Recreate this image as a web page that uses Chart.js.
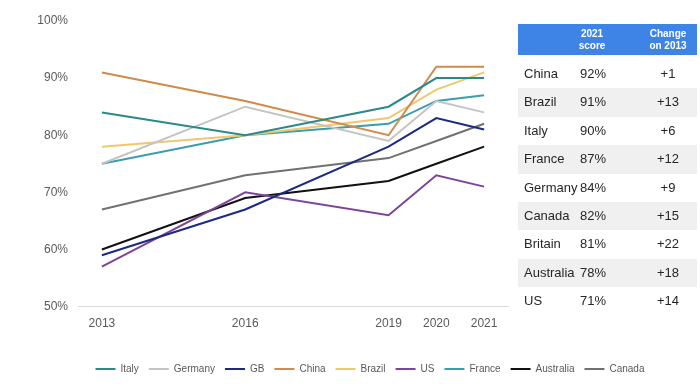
<!DOCTYPE html>
<html>
<head>
<meta charset="utf-8">
<script src="https://cdn.jsdelivr.net/npm/chart.js@4.4.0/dist/chart.umd.min.js"></script>
<style>
  html, body { margin: 0; padding: 0; background: #ffffff; overflow: hidden; }
  #wrap { position: relative; width: 700px; height: 388px; }
  #c { position: absolute; left: 0; top: 0; }
  #tbl { position: absolute; left: 518px; top: 24px; width: 179px; height: 292px;
         font-family: "Liberation Sans", Arial, sans-serif; }
  .hdr { position: absolute; left: 0; top: 0; width: 179px; height: 31px; background: #3e84e6; }
  .hc { position: absolute; top: 4px; width: 60px; margin-left: -30px; color: #fff; font-size: 10px;
        font-weight: bold; line-height: 12px; text-align: center; }
  .row { position: absolute; left: 0; width: 179px; height: 28.4px; }
  .row.g { background: #f0f0f0; }
  .cell { position: absolute; top: 0; line-height: 28.4px; font-size: 13px; color: #262626; white-space: nowrap; }
  .cn { left: 6px; }
  .cs, .cd { width: 50px; margin-left: -25px; text-align: center; }
</style>
</head>
<body>
<div id="wrap">
  <canvas id="c" width="700" height="388"></canvas>
  <div id="tbl"></div>
</div>
<script>
// ---- data ----
const years = [2013, 2016, 2019, 2020, 2021];
const yTicks = [50, 60, 70, 80, 90, 100];
const seriesNames = ["Italy", "Germany", "GB", "China", "Brazil", "US", "France", "Australia", "Canada"];
const italy     = [84, 80, 85, 90, 90];
const germany   = [75, 85, 79, 86, 84];
const gb        = [59, 67, 78, 83, 81];
const china     = [91, 86, 80, 92, 92];
const brazil    = [78, 80, 83, 88, 91];
const us        = [57, 70, 66, 73, 71];
const france    = [75, 80, 82, 86, 87];
const australia = [60, 69, 72, 75, 78];
const canada    = [67, 73, 76, 79, 82];
const seriesValues = [italy, germany, gb, china, brazil, us, france, australia, canada];
const seriesColors = ["#2a8a8a", "#c4c4c4", "#1c2a84", "#cf8a4c", "#efc76f", "#7d4498", "#3a9db0", "#111111", "#717171"];

const tableHeaders   = [["2021", "score"], ["Change", "on 2013"]];
const tableCountries = ["China", "Brazil", "Italy", "France", "Germany", "Canada", "Britain", "Australia", "US"];
const tableScores    = ["92%", "91%", "90%", "87%", "84%", "82%", "81%", "78%", "71%"];
const tableChanges   = ["+1", "+13", "+6", "+12", "+9", "+15", "+22", "+18", "+14"];

// ---- table (HTML text) ----
(function () {
  const t = document.getElementById('tbl');
  const scoreX = 75, changeX = 150;   // column centres relative to table left
  let h = '<div class="hdr">' +
    '<div class="hc" style="left:' + (scoreX - 1) + 'px">' + tableHeaders[0].join('<br>') + '</div>' +
    '<div class="hc" style="left:' + changeX + 'px">' + tableHeaders[1].join('<br>') + '</div></div>';
  tableCountries.forEach((c, i) => {
    const top = 36 + i * 28.4;
    h += '<div class="row' + (i % 2 === 1 ? ' g' : '') + '" style="top:' + top + 'px">' +
      '<span class="cell cn">' + c + '</span>' +
      '<span class="cell cs" style="left:' + scoreX + 'px">' + tableScores[i] + '</span>' +
      '<span class="cell cd" style="left:' + changeX + 'px">' + tableChanges[i] + '</span></div>';
  });
  t.innerHTML = h;
})();

// ---- chart ----
const datasets = seriesNames.map((name, i) => ({
  label: name,
  data: years.map((yr, j) => ({ x: yr, y: seriesValues[i][j] })),
  borderColor: seriesColors[i],
  backgroundColor: seriesColors[i],
  borderWidth: 2,
  pointRadius: 0,
  tension: 0,
  fill: false
}));

const FONT = "'Liberation Sans', Arial, sans-serif";

const legendShift = {
  id: 'legendShift',
  afterLayout(chart) {
    const lg = chart.legend;
    if (lg) { lg.left += 20; lg.right += 20; }
  }
};

new Chart(document.getElementById('c'), {
  type: 'line',
  data: { datasets },
  plugins: [legendShift],
  options: {
    responsive: false,
    animation: false,
    events: [],
    layout: { padding: { left: 0, top: 21, right: 0, bottom: 4 } },
    plugins: {
      tooltip: { enabled: false },
      legend: {
        position: 'bottom',
        labels: {
          boxWidth: 20,
          boxHeight: 2,
          padding: 10,
          color: '#595959',
          font: { family: FONT, size: 10 },
          generateLabels(chart) {
            return chart.data.datasets.map((ds, i) => ({
              text: ds.label,
              fillStyle: ds.borderColor,
              strokeStyle: ds.borderColor,
              lineWidth: 0,
              hidden: false,
              datasetIndex: i,
              fontColor: '#595959'
            }));
          }
        }
      }
    },
    scales: {
      x: {
        type: 'linear',
        min: 2012.5,
        max: 2021.5,
        afterBuildTicks(scale) { scale.ticks = years.map(v => ({ value: v })); },
        afterFit(scale) { scale.height += 13; },
        grid: { display: false, drawTicks: false },
        border: { display: true, color: '#d9d9d9', width: 1 },
        ticks: {
          padding: 10,
          color: '#595959',
          font: { family: FONT, size: 12 },
          maxRotation: 0,
          autoSkip: false,
          callback: v => String(v)
        }
      },
      y: {
        min: 50,
        max: 100,
        afterBuildTicks(scale) { scale.ticks = yTicks.map(v => ({ value: v })); },
        afterFit(scale) { scale.width = 78; },
        grid: { display: false, drawTicks: false },
        border: { display: false },
        ticks: {
          padding: 10,
          color: '#595959',
          font: { family: FONT, size: 12 },
          callback: v => v + '%'
        }
      },
      r: {
        position: 'right',
        display: true,
        afterFit(scale) { scale.width = 192; },
        grid: { display: false, drawTicks: false },
        border: { display: false },
        ticks: { display: false }
      }
    }
  }
});
</script>
</body>
</html>
